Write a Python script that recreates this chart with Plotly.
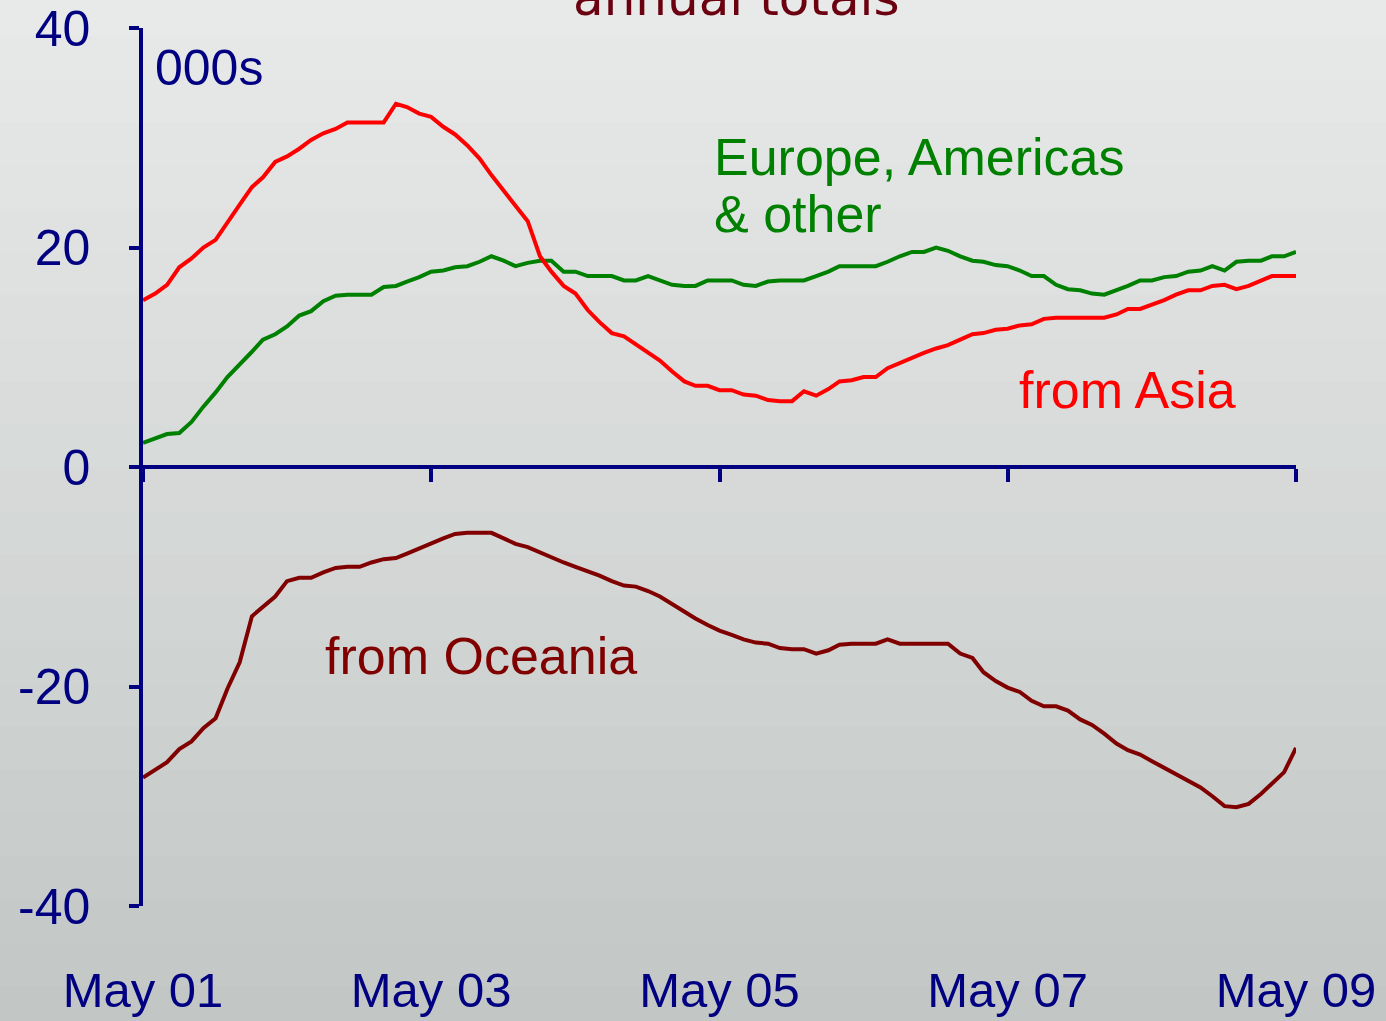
import pandas as pd
import plotly.graph_objects as go

# Monthly annual totals, May 2001 - May 2009 (000s)
months = pd.date_range("2001-05-01", periods=97, freq="MS")

asia = [15.2, 15.8, 16.6, 18.2, 19.0, 20.0, 20.7, 22.2, 23.9, 25.5,
        26.4, 27.8, 28.3, 29.0, 29.8, 30.4, 30.8, 31.4, 31.4, 31.4,
        31.4, 33.1, 32.8, 32.2, 31.9, 31.0, 30.3, 29.3, 28.1, 26.6,
        25.1, 23.8, 22.4, 19.2, 17.8, 16.5, 15.8, 14.3, 13.2, 12.2,
        11.9, 11.2, 10.5, 9.7, 8.7, 7.8, 7.4, 7.4, 7.0, 7.0,
        6.6, 6.5, 6.1, 6.0, 6.0, 6.9, 6.5, 7.1, 7.8, 7.9,
        8.2, 8.2, 9.0, 9.5, 10.0, 10.4, 10.8, 11.1, 11.6, 12.1,
        12.2, 12.5, 12.6, 12.9, 13.0, 13.5, 13.6, 13.6, 13.6, 13.6,
        13.6, 13.9, 14.4, 14.4, 14.8, 15.2, 15.7, 16.1, 16.1, 16.5,
        16.6, 16.2, 16.5, 17.0, 17.4, 17.4, 17.4]

europe = [2.2, 2.6, 3.0, 3.1, 4.1, 5.5, 6.8, 8.2, 9.3, 10.5,
          11.6, 12.1, 12.8, 13.8, 14.2, 15.1, 15.6, 15.7, 15.7, 15.7,
          16.4, 16.5, 16.9, 17.3, 17.8, 17.9, 18.2, 18.3, 18.7, 19.2,
          18.8, 18.3, 18.6, 18.8, 18.8, 17.8, 17.8, 17.4, 17.4, 17.4,
          17.0, 17.0, 17.4, 17.0, 16.6, 16.5, 16.5, 17.0, 17.0, 17.0,
          16.6, 16.5, 16.9, 17.0, 17.0, 17.0, 17.4, 17.8, 18.3, 18.3,
          18.3, 18.3, 18.7, 19.2, 19.6, 19.6, 20.0, 19.7, 19.2, 18.8,
          18.7, 18.4, 18.3, 17.9, 17.4, 17.4, 16.6, 16.2, 16.1, 15.8,
          15.7, 16.1, 16.5, 17.0, 17.0, 17.3, 17.4, 17.8, 17.9, 18.3,
          17.9, 18.7, 18.8, 18.8, 19.2, 19.2, 19.6]

oceania = [-28.3, -27.6, -26.9, -25.7, -25.0, -23.8, -22.9, -20.2, -17.8, -13.6,
           -12.8, -11.8, -10.4, -10.1, -10.1, -9.6, -9.2, -9.1, -9.1, -8.7,
           -8.4, -8.3, -7.9, -7.4, -7.0, -6.5, -6.1, -6.0, -6.0, -6.0,
           -6.5, -7.0, -7.3, -7.8, -8.2, -8.7, -9.1, -9.5, -9.9, -10.4,
           -10.8, -10.9, -11.3, -11.8, -12.5, -13.1, -13.8, -14.4, -14.9, -15.3,
           -15.7, -16.0, -16.1, -16.5, -16.6, -16.6, -17.0, -16.7, -16.2, -16.1,
           -16.1, -16.1, -15.7, -16.1, -16.1, -16.1, -16.1, -16.1, -17.0, -17.4,
           -18.7, -19.5, -20.1, -20.5, -21.3, -21.8, -21.8, -22.2, -23.0, -23.5,
           -24.3, -25.2, -25.8, -26.2, -26.8, -27.4, -27.9, -28.6, -29.2, -30.0,
           -30.9, -31.0, -30.7, -29.8, -28.9, -27.8, -25.6]

tick_dates = ["2001-05-01", "2003-05-01", "2005-05-01", "2007-05-01", "2009-05-01"]
tick_text = ["May 01", "May 03", "May 05", "May 07", "May 09"]
y_ticks = [-40, -20, 0, 20, 40]
y_tick_text = ["-40", "-20", "0", "20", "40"]

NAVY = "#000080"
FONT = "Liberation Sans, Arial, sans-serif"

fig = go.Figure()

fig.add_trace(go.Scatter(x=months, y=europe, mode="lines",
                         line=dict(color="#008000", width=4)))
fig.add_trace(go.Scatter(x=months, y=asia, mode="lines",
                         line=dict(color="#ff0000", width=4)))
fig.add_trace(go.Scatter(x=months, y=oceania, mode="lines", xaxis="x2",
                         line=dict(color="#800000", width=4)))

# soft grey vertical gradient for the slide background
top_c = (232, 234, 233)
bot_c = (194, 199, 198)
n_bands = 24
y_top, y_bot = 1.04, -0.14
for k in range(n_bands):
    f = k / (n_bands - 1)
    c = tuple(round(top_c[j] + (bot_c[j] - top_c[j]) * f) for j in range(3))
    y1 = y_top - (y_top - y_bot) * k / n_bands
    y0 = y_top - (y_top - y_bot) * (k + 1) / n_bands
    fig.add_shape(type="rect", xref="paper", yref="paper",
                  x0=-0.2, x1=1.2, y0=y0 - 0.002, y1=y1,
                  fillcolor="rgb(%d,%d,%d)" % c, line_width=0, layer="below")

fig.update_layout(
    width=1386, height=1021,
    margin=dict(l=143, r=90, t=28, b=115),
    paper_bgcolor="rgb(214,218,217)",
    plot_bgcolor="rgba(0,0,0,0)",
    showlegend=False,
    font=dict(family=FONT, color=NAVY),
    xaxis=dict(
        type="date", range=["2001-05-01", "2009-05-01"],
        tickvals=tick_dates, ticktext=tick_text, automargin=False,
        showline=False, showgrid=False, zeroline=False, ticks="",
        tickfont=dict(size=49, color=NAVY), ticklabelstandoff=51,
    ),
    xaxis2=dict(
        type="date", range=["2001-05-01", "2009-05-01"],
        overlaying="x", anchor="free", position=0.5, automargin=False,
        tickvals=tick_dates, showticklabels=False,
        showline=True, linecolor=NAVY, linewidth=3.5,
        ticks="outside", ticklen=13, tickwidth=3.5, tickcolor=NAVY,
        showgrid=False, zeroline=False,
    ),
    yaxis=dict(
        range=[-40, 40], tickvals=y_ticks, ticktext=y_tick_text,
        automargin=False,
        showline=True, linecolor=NAVY, linewidth=3.5,
        ticks="outside", ticklen=10, tickwidth=3.5, tickcolor=NAVY,
        showgrid=False, zeroline=False,
        tickfont=dict(size=50, color=NAVY), ticklabelstandoff=29,
    ),
)

fig.add_annotation(text="annual totals", xref="paper", yref="paper",
                   x=0.515, y=1.034, showarrow=False, yanchor="middle",
                   font=dict(family="DejaVu Sans", size=50, color="#6b0010"))
fig.add_annotation(text="000s", xref="paper", yref="paper",
                   x=0.0087, y=0.954, xanchor="left", yanchor="middle",
                   showarrow=False, font=dict(size=50, color=NAVY))
fig.add_annotation(text="Europe, Americas", xref="paper", yref="paper",
                   x=0.4935, y=0.853, xanchor="left", yanchor="middle",
                   showarrow=False, font=dict(size=52, color="#008000"))
fig.add_annotation(text="& other", xref="paper", yref="paper",
                   x=0.4935, y=0.788, xanchor="left", yanchor="middle",
                   showarrow=False, font=dict(size=52, color="#008000"))
fig.add_annotation(text="from Asia", xref="paper", yref="paper",
                   x=0.758, y=0.588, xanchor="left", yanchor="middle",
                   showarrow=False, font=dict(size=52, color="#ff0000"))
fig.add_annotation(text="from Oceania", xref="paper", yref="paper",
                   x=0.156, y=0.285, xanchor="left", yanchor="middle",
                   showarrow=False, font=dict(size=52, color="#800000"))

# the slide fills the whole window, so drop the default page margin
fig.write_html("out.html", config={"displayModeBar": False},
               post_script="document.body.style.margin='0';")
